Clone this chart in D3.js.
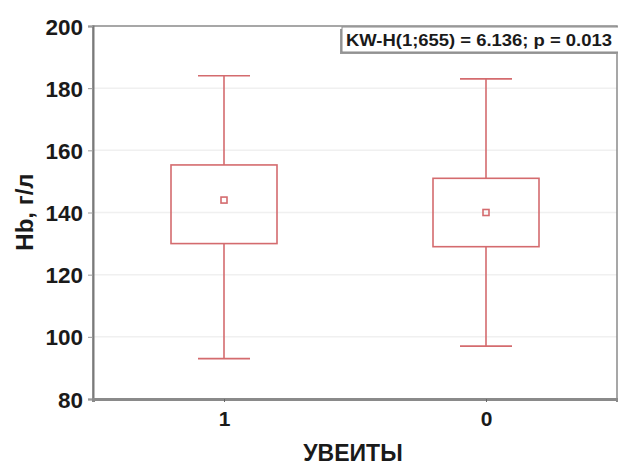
<!DOCTYPE html>
<html>
<head>
<meta charset="utf-8">
<script src="https://cdn.jsdelivr.net/npm/d3@7"></script>
<style>
  body { margin: 0; background: #fff; }
  text { font-family: "Liberation Sans", Arial, sans-serif; font-weight: bold; fill: #1a1a1a; }
</style>
</head>
<body>
<svg id="chart" width="618" height="465"></svg>
<script>
// box plot data per group (Hb, g/l)
var groups = ["1", "0"];
var means = [144, 140];
var q1s = [130, 129];
var q3s = [155.3, 151];
var lows = [93, 97];
var highs = [184, 183];
var yTicks = [80, 100, 120, 140, 160, 180, 200];
var statLabel = "KW-H(1;655) = 6.136; p = 0.013";

var svg = d3.select("#chart");
var margin = {left: 93, top: 26, right: 1, bottom: 66};
var W = 618, H = 465;

var x = d3.scalePoint()
    .domain(groups)
    .range([margin.left, W - margin.right])
    .padding(0.5);
var y = d3.scaleLinear()
    .domain([80, 200])
    .range([H - margin.bottom, margin.top]);

var red = "#d46b6e";
var boxW = 106, capW = 52, markS = 6;

/*
 * grid lines
 */
svg.append("g")
    .selectAll("line")
    .data(yTicks.slice(1, -1))
    .enter().append("line")
    .attr("x1", margin.left)
    .attr("x2", W - margin.right)
    .attr("y1", function(d) { return y(d); })
    .attr("y2", function(d) { return y(d); })
    .attr("stroke", "#f0f0f0")
    .attr("stroke-width", 1.5);

// frame
svg.append("rect")
    .attr("x", margin.left)
    .attr("y", margin.top)
    .attr("width", W - margin.right - margin.left)
    .attr("height", H - margin.bottom - margin.top)
    .attr("fill", "none")
    .attr("stroke", "#8a8a8a")
    .attr("stroke-width", 1.5);

// axes
var yAxis = svg.append("g")
    .attr("transform", "translate(" + margin.left + ",0)")
    .call(d3.axisLeft(y).tickValues(yTicks).tickSize(5).tickPadding(5));
yAxis.select(".domain").attr("stroke", "#7a7a7a").attr("stroke-width", 2);
yAxis.selectAll(".tick line").attr("stroke", "#9a9a9a");
yAxis.selectAll("text")
    .style("font-size", "22.5px")
    .attr("dy", "0.36em");

var xAxis = svg.append("g")
    .attr("transform", "translate(0," + (H - margin.bottom) + ")")
    .call(d3.axisBottom(x).tickSize(3).tickPadding(9));
xAxis.select(".domain").attr("stroke", "#8a8a8a").attr("stroke-width", 3);
xAxis.selectAll(".tick line").attr("stroke", "#666");
xAxis.selectAll("text").style("font-size", "21px");

// axis titles
svg.append("text")
    .attr("x", 353)
    .attr("y", 461)
    .attr("text-anchor", "middle")
    .style("font-size", "23px")
    .text("УВЕИТЫ");
svg.append("text")
    .attr("transform", "translate(33,212) rotate(-90)")
    .attr("text-anchor", "middle")
    .style("font-size", "24px")
    .text("Hb, г/л");

/*
 * boxes, whiskers, mean markers
 */
var g = svg.append("g").attr("fill", "none").attr("stroke", red).attr("stroke-width", 1.6);
groups.forEach(function(k, i) {
    var cx = x(k);
    g.append("line")
        .attr("x1", cx).attr("x2", cx)
        .attr("y1", y(highs[i])).attr("y2", y(q3s[i]));
    g.append("line")
        .attr("x1", cx).attr("x2", cx)
        .attr("y1", y(q1s[i])).attr("y2", y(lows[i]));
    g.append("line")
        .attr("x1", cx - capW / 2).attr("x2", cx + capW / 2)
        .attr("y1", y(highs[i])).attr("y2", y(highs[i]));
    g.append("line")
        .attr("x1", cx - capW / 2).attr("x2", cx + capW / 2)
        .attr("y1", y(lows[i])).attr("y2", y(lows[i]));
    g.append("rect")
        .attr("x", cx - boxW / 2)
        .attr("y", y(q3s[i]))
        .attr("width", boxW)
        .attr("height", y(q1s[i]) - y(q3s[i]));
    g.append("rect")
        .attr("x", cx - markS / 2)
        .attr("y", y(means[i]) - markS / 2)
        .attr("width", markS)
        .attr("height", markS);
});

// stat label with shadow
svg.append("rect")
    .attr("x", 340).attr("y", 29)
    .attr("width", 290).attr("height", 25)
    .attr("fill", "#9a9a9a");
svg.append("rect")
    .attr("x", 342).attr("y", 27)
    .attr("width", 290).attr("height", 25)
    .attr("fill", "#fff")
    .attr("stroke", "#8a8a8a")
    .attr("stroke-width", 1);
svg.append("text")
    .attr("x", 346)
    .attr("y", 46)
    .attr("textLength", 266)
    .attr("lengthAdjust", "spacingAndGlyphs")
    .style("font-size", "16.5px")
    .text(statLabel);
</script>
</body>
</html>
